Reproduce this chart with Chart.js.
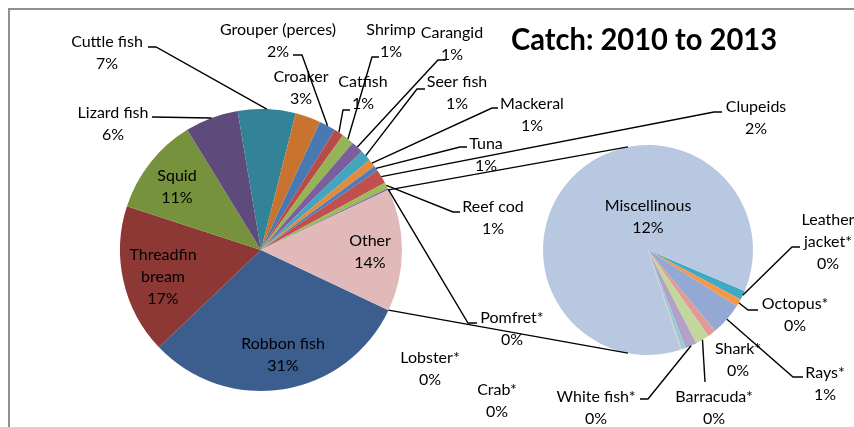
<!DOCTYPE html>
<html>
<head>
<meta charset="utf-8">
<script src="https://cdn.jsdelivr.net/npm/chart.js@4.4.0/dist/chart.umd.min.js"></script>
<style>
  html, body { margin: 0; padding: 0; background: #fff; }
  #wrap { position: relative; width: 854px; height: 427px; overflow: hidden; }
  #frame { position: absolute; left: 8px; top: 8px; width: 900px; height: 500px;
           border-left: 2px solid #8f8f8f; border-top: 2px solid #8f8f8f; }
  canvas { position: absolute; left: 0; top: 0; }
</style>
</head>
<body>
<div id="wrap">
  <div id="frame"></div>
  <canvas id="mainPie" width="854" height="427"></canvas>
  <canvas id="subPie" width="854" height="427"></canvas>
</div>
<script>
// main pie (clockwise, starting after "Other")
const mainLabels = ['Robbon fish', 'Threadfin bream', 'Squid', 'Lizard fish', 'Cuttle fish', 'Croaker',
  'Grouper (perces)', 'Catfish', 'Shrimp', 'Carangid', 'Seer fish', 'Mackeral', 'Tuna', 'Clupeids',
  'Reef cod', 'Pomfret*'];
const mainValues = [30.8, 17.1, 11.2, 6.1, 6.6, 2.9, 1.9, 1.1, 1.4, 1.4, 1.3, 0.9, 0.6, 1.6, 0.7, 0.2];
const mainColors = ['#3B5E8F', '#8E3836', '#77923C', '#5E4A7B', '#328298', '#C87430',
  '#4A78B0', '#B94B49', '#94B456', '#7A5F9C', '#45A4BE', '#E48A3C', '#4A7EBB', '#C0504D',
  '#9BBB59', '#8064A2'];

// secondary pie (the "Other" slice broken out)
const subLabels = ['Leather jacket*', 'Octopus*', 'Rays*', 'Shark*', 'Barracuda*', 'White fish*',
  'Crab*', 'Lobster*', 'Miscellinous'];
const subValues = [0.2, 0.16, 0.7, 0.18, 0.3, 0.25, 0.09, 0.02, 12.1];
const subColors = ['#40AAC4', '#F79646', '#93A8D2', '#E09A98', '#C3D69B', '#B3A2C7',
  '#93CDDD', '#FAC090', '#B9C8E1'];

const otherLabel = 'Other';
const otherColor = '#E0B9B8';
const title = 'Catch: 2010 to 2013';

const otherValue = subValues.reduce((a, b) => a + b, 0);
const allMain = mainValues.concat([otherValue]);
const total = allMain.reduce((a, b) => a + b, 0);
const pct = v => Math.round(v / total * 100) + '%';

// label placement (text centre of first line), wrapping and leader lines
const labelPos = {
  'Robbon fish': { x: 283, y: 344 },
  'Threadfin bream': { x: 163, y: 255, wrap: ['Threadfin', 'bream'] },
  'Squid': { x: 177, y: 176 },
  'Lizard fish': { x: 113, y: 113, leader: [[152, 117]] },
  'Cuttle fish': { x: 107, y: 42, leader: [[148, 47], [156, 47]] },
  'Croaker': { x: 301, y: 77 },
  'Grouper (perces)': { x: 278, y: 30, leader: [[293, 55], [302, 55]] },
  'Catfish': { x: 363, y: 82, leader: [[350, 110], [343, 110]] },
  'Shrimp': { x: 391, y: 30, leader: [[379, 57], [372, 57]] },
  'Carangid': { x: 452, y: 33, leader: [[446, 60], [438, 60]] },
  'Seer fish': { x: 457, y: 82, leader: [[425, 89], [417, 89]] },
  'Mackeral': { x: 532, y: 104, leader: [[498, 108], [492, 108]] },
  'Tuna': { x: 486, y: 144, leader: [[467, 147], [460, 147]] },
  'Clupeids': { x: 756, y: 107, leader: [[722, 112], [714, 112]] },
  'Reef cod': { x: 493, y: 207, leader: [[460, 212], [453, 212]] },
  'Pomfret*': { x: 512, y: 318, leader: [[477, 323], [468, 323]] },
  'Other': { x: 370, y: 241 },
  'Miscellinous': { x: 648, y: 206 },
  'Leather jacket*': { x: 828, y: 220, wrap: ['Leather', 'jacket*'], leader: [[800, 247], [792, 247]] },
  'Octopus*': { x: 795, y: 304, leader: [[758, 310], [748, 310]] },
  'Rays*': { x: 825, y: 373, leader: [[803, 377], [793, 377]] },
  'Shark*': { x: 738, y: 349 },
  'Barracuda*': { x: 714, y: 397, leader: [[705, 382]] },
  'White fish*': { x: 596, y: 397, leader: [[640, 399], [648, 399]] },
  'Crab*': { x: 497, y: 390 },
  'Lobster*': { x: 430, y: 358 }
};

const FONT = 'Lato, "Open Sans", sans-serif';

function arcPoint(arc, ang, r) {
  return [arc.x + r * Math.cos(ang), arc.y + r * Math.sin(ang)];
}

function drawLabel(ctx, name, value, arc) {
  const p = labelPos[name];
  if (!p) return;
  if (p.leader) {
    const mid = (arc.startAngle + arc.endAngle) / 2;
    const end = arcPoint(arc, mid, arc.outerRadius);
    ctx.beginPath();
    ctx.moveTo(p.leader[0][0], p.leader[0][1]);
    p.leader.slice(1).forEach(q => ctx.lineTo(q[0], q[1]));
    ctx.lineTo(end[0], end[1]);
    ctx.stroke();
  }
  const lines = (p.wrap || [name]).concat([pct(value)]);
  lines.forEach((t, i) => ctx.fillText(t, p.x, p.y + i * 22));
}

let mainChart;

const overlay = {
  id: 'overlay',
  afterDraw(chart) {
    const ctx = chart.ctx;
    const mArcs = mainChart.getDatasetMeta(0).data;
    const sArcs = chart.getDatasetMeta(0).data;
    ctx.save();
    ctx.strokeStyle = '#000';
    ctx.lineWidth = 1.4;
    ctx.fillStyle = '#000';
    ctx.font = '16px ' + FONT;
    ctx.textAlign = 'center';
    ctx.textBaseline = 'middle';

    // connectors between the "Other" slice and the secondary pie
    const o = mArcs[mArcs.length - 1];
    const s = sArcs[0];
    const topA = arcPoint(o, o.startAngle, o.outerRadius);
    const botA = arcPoint(o, o.endAngle, o.outerRadius);
    const topB = arcPoint(s, -101 * Math.PI / 180, s.outerRadius);
    const botB = arcPoint(s, 101 * Math.PI / 180, s.outerRadius);
    ctx.beginPath();
    ctx.moveTo(topA[0], topA[1]); ctx.lineTo(topB[0], topB[1]);
    ctx.moveTo(botA[0], botA[1]); ctx.lineTo(botB[0], botB[1]);
    ctx.stroke();

    mainLabels.forEach((n, i) => drawLabel(ctx, n, mainValues[i], mArcs[i]));
    drawLabel(ctx, otherLabel, otherValue, o);
    subLabels.forEach((n, i) => drawLabel(ctx, n, subValues[i], sArcs[i]));

    ctx.font = 'bold 31px ' + FONT;
    ctx.fillText(title, 644, 40, 266);
    ctx.restore();
  }
};

const baseOptions = {
  responsive: false,
  animation: false,
  plugins: { legend: { display: false }, tooltip: { enabled: false }, title: { display: false } }
};

mainChart = new Chart(document.getElementById('mainPie'), {
  type: 'pie',
  data: {
    labels: mainLabels.concat([otherLabel]),
    datasets: [{ data: allMain, backgroundColor: mainColors.concat([otherColor]), borderWidth: 0 }]
  },
  options: Object.assign({}, baseOptions, {
    rotation: 90 + (otherValue / total) * 180,
    layout: { padding: { left: 120, right: 452, top: 109, bottom: 36 } }
  })
});

new Chart(document.getElementById('subPie'), {
  type: 'pie',
  data: {
    labels: subLabels,
    datasets: [{ data: subValues, backgroundColor: subColors, borderWidth: 0 }]
  },
  options: Object.assign({}, baseOptions, {
    rotation: 113,
    layout: { padding: { left: 543, right: 101, top: 145, bottom: 72 } }
  }),
  plugins: [overlay]
});
</script>
</body>
</html>
